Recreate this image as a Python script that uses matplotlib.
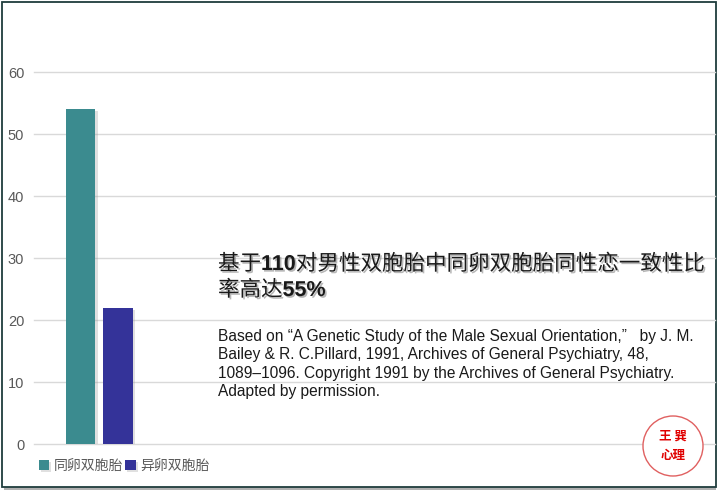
import matplotlib
matplotlib.use("Agg")
import matplotlib.pyplot as plt
import matplotlib.patches as mpatches
import matplotlib.patheffects as pe

plt.rcParams['font.family'] = ['Liberation Sans', 'Noto Sans CJK SC', 'DejaVu Sans']

series_names = ["同卵双胞胎", "异卵双胞胎"]
series_values = [54, 22]
series_colors = ["#3B8B8F", "#343399"]
yticks = [0, 10, 20, 30, 40, 50, 60]

W, H, DPI = 719, 492, 100
fig = plt.figure(figsize=(W / DPI, H / DPI), dpi=DPI)

def fx(px):
    return px / W

def fy(py):
    return 1 - py / H

ax = fig.add_axes([fx(34), fy(444), fx(715) - fx(34), fy(72) - fy(444)])
bar_w = 0.216
offsets = [-0.137, 0.137]
for name, val, col, off in zip(series_names, series_values, series_colors, offsets):
    ax.bar(0 + off, val, width=bar_w, color=col, label=name, zorder=3,
           path_effects=[pe.SimplePatchShadow(offset=(1.5, -1.5), shadow_rgbFace='#999999', alpha=0.3), pe.Normal()])

ax.set_xlim(-0.48, 4.52)
ax.set_ylim(0, 60)
ax.set_yticks(yticks)
ax.set_xticks([])
ax.grid(axis='y', color='#d9d9d9', linewidth=1, zorder=0)
for gl in ax.get_ygridlines():
    gl.set_clip_on(False)
for s in ax.spines.values():
    s.set_visible(False)
ax.tick_params(axis='y', length=0, pad=7, labelsize=10.5, labelcolor='#595959')
ax.set_facecolor('none')

leg = ax.legend(loc='center left', bbox_to_anchor=(fx(26), fy(466)), bbox_transform=fig.transFigure,
                ncol=2, frameon=False, handlelength=0.75, handleheight=0.75, handletextpad=0.35,
                columnspacing=0.15, prop={'family': ['Noto Sans CJK SC'], 'size': 10})
for t in leg.get_texts():
    t.set_color('#595959')

# Title text in pieces (bold digits)
renderer = fig.canvas.get_renderer()
shadow = [pe.withSimplePatchShadow(offset=(1.2, -1.2), shadow_rgbFace='#888888', alpha=0.6)]
lines = [
    [("基于", 'normal'), ("110", 'bold'), ("对男性双胞胎中同卵双胞胎同性恋一致性比", 'normal')],
    [("率高达", 'normal'), ("55%", 'bold')],
]
base_y = [270, 296]
for parts, by in zip(lines, base_y):
    xpix = 218
    for txt, wt in parts:
        fam = ['Liberation Sans', 'Noto Sans CJK SC'] if wt == 'bold' else ['Noto Sans CJK SC']
        t = fig.text(fx(xpix), fy(by), txt, fontsize=15.5, fontweight=wt, family=fam,
                     color='#1a1a1a', ha='left', va='baseline', path_effects=shadow)
        bb = t.get_window_extent(renderer)
        xpix += bb.width

para = ("Based on \u201cA Genetic Study of the Male Sexual Orientation,\u201d   by J. M.\n"
        "Bailey & R. C.Pillard, 1991, Archives of General Psychiatry, 48,\n"
        "1089\u20131096. Copyright 1991 by the Archives of General Psychiatry.\n"
        "Adapted by permission.")
fig.text(fx(218), fy(329), para, fontsize=11.2, family=['Liberation Sans', 'Noto Sans CJK SC'],
         color='#1a1a1a', ha='left', va='top', linespacing=1.29)

# Logo
logo_c = (673, 446)
r = 30
circ = mpatches.Ellipse((fx(logo_c[0]), fy(logo_c[1])), width=2 * r / W, height=2 * r / H,
                        transform=fig.transFigure, facecolor='white', edgecolor='#e06060',
                        linewidth=1, zorder=5)
fig.patches.append(circ)
fig.text(fx(673), fy(436), "王 巽", fontsize=9, fontweight='bold', family=['Noto Sans CJK SC'],
         color='#e00000', ha='center', va='center', zorder=6)
fig.text(fx(673), fy(456), "心理", fontsize=9, fontweight='bold', family=['Noto Sans CJK SC'],
         color='#e00000', ha='center', va='center', zorder=6)

# Border with shadow
fig.patches.append(mpatches.Rectangle((fx(4), fy(490)), fx(716) - fx(4), fy(4) - fy(490),
                                      transform=fig.transFigure, facecolor='#b0b0b0',
                                      edgecolor='none', zorder=-2))
fig.patches.append(mpatches.Rectangle((fx(1.5), fy(487)), fx(716) - fx(1.5), fy(1.5) - fy(487),
                                      transform=fig.transFigure, facecolor='white',
                                      edgecolor='#1f3d3d', linewidth=1.3, zorder=-1))

fig.savefig("out.png", dpi=DPI)
